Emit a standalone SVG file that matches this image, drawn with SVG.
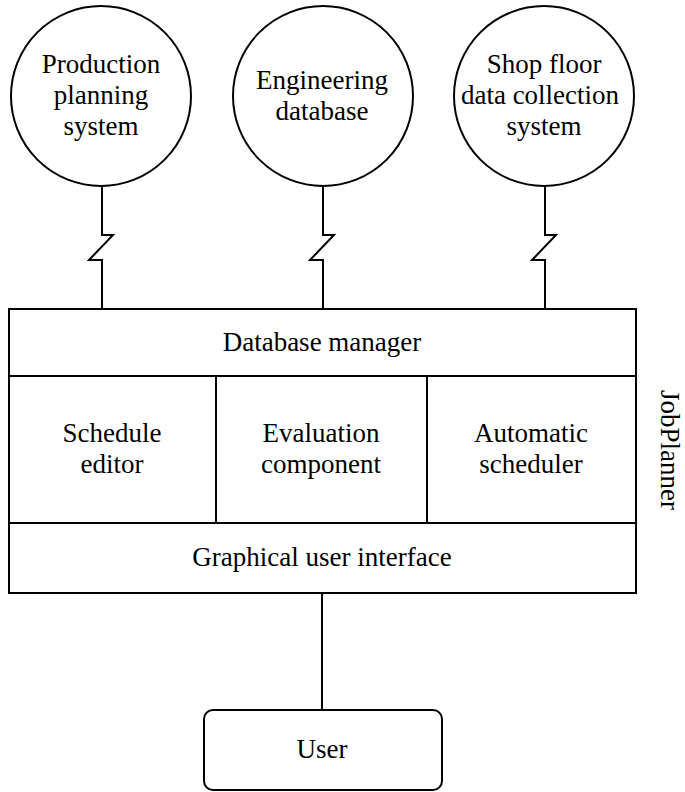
<svg xmlns="http://www.w3.org/2000/svg" width="685" height="792" viewBox="0 0 685 792">
<style>
.s{fill:#fff;stroke:#000;stroke-width:2}
.l{fill:none;stroke:#000;stroke-width:2}
.t{font-family:'Liberation Serif','Times New Roman','DejaVu Serif',serif;font-size:27px;fill:#000;text-anchor:middle}
</style>
<rect width="685" height="792" fill="#fff"/>
<g id="connectors">
<path class="l" d="M102,186 V235 H113 L89,260 H102 V309"/>
<path class="l" d="M323,186 V235 H334 L310,260 H323 V309"/>
<path class="l" d="M545,186 V235 H556 L532,260 H545 V309"/>
<path class="l" d="M322,593 V710"/>
</g>
<g id="production">
<circle class="s" cx="101" cy="96" r="90"/>
<text class="t" x="101" y="73">Production</text>
<text class="t" x="101" y="104">planning</text>
<text class="t" x="101" y="135">system</text>
</g>
<g id="engineering">
<circle class="s" cx="323" cy="96" r="90"/>
<text class="t" x="322" y="89">Engineering</text>
<text class="t" x="322" y="120">database</text>
</g>
<g id="shopfloor">
<circle class="s" cx="544" cy="96" r="90"/>
<text class="t" x="544" y="73">Shop floor</text>
<text class="t" x="540" y="104">data collection</text>
<text class="t" x="544" y="135">system</text>
</g>
<g id="jobplanner">
<rect class="s" x="9" y="309" width="627" height="284"/>
<line class="l" x1="9" y1="376" x2="636" y2="376"/>
<line class="l" x1="9" y1="523" x2="636" y2="523"/>
<line class="l" x1="216" y1="376" x2="216" y2="523"/>
<line class="l" x1="427" y1="376" x2="427" y2="523"/>
<text class="t" x="322" y="351">Database manager</text>
<text class="t" x="112" y="442">Schedule</text>
<text class="t" x="112" y="473">editor</text>
<text class="t" x="321" y="442">Evaluation</text>
<text class="t" x="321" y="473">component</text>
<text class="t" x="531" y="442">Automatic</text>
<text class="t" x="531" y="473">scheduler</text>
<text class="t" x="322" y="566">Graphical user interface</text>
<text class="t" transform="translate(661,450) rotate(90)">JobPlanner</text>
</g>
<g id="user">
<rect class="s" x="204" y="710" width="238" height="80" rx="9"/>
<text class="t" x="322" y="758">User</text>
</g>
</svg>
